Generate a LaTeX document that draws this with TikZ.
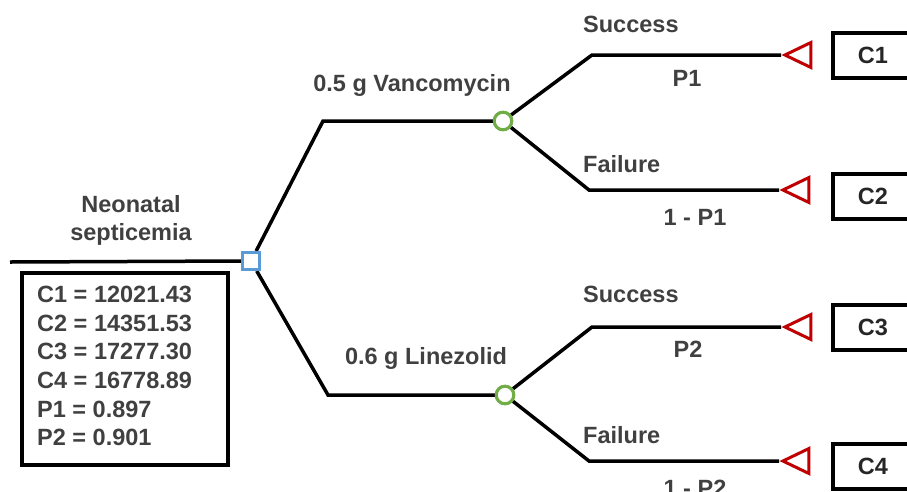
\documentclass[tikz,border=0pt]{standalone}
\usepackage{fontspec}
\setmainfont{Liberation Sans}
\usetikzlibrary{shapes.geometric}
\definecolor{txt}{HTML}{404040}
\definecolor{decblue}{HTML}{5B9BD5}
\definecolor{chgreen}{HTML}{70AD47}
\definecolor{endred}{HTML}{C00000}
\begin{document}
\begin{tikzpicture}[x=1pt,y=-1pt,
  lbl/.style={font=\fontsize{23.5}{27.5}\selectfont\bfseries, text=txt, inner sep=0pt},
  br/.style={draw=black, line width=3.5pt, line join=miter},
  decnode/.style={draw=decblue, line width=3pt, fill=white, minimum size=17pt, inner sep=0pt, rectangle},
  chnode/.style={draw=chgreen, line width=3pt, fill=white, minimum size=17.5pt, inner sep=0pt, circle},
  endnode/.style={draw=endred, line width=3pt, isosceles triangle, isosceles triangle stretches, shape border rotate=180, minimum width=25pt, minimum height=26pt, inner sep=0pt, anchor=apex},
  outbox/.style={draw=black, line width=4pt, minimum width=80pt, minimum height=45pt, inner sep=0pt, font=\fontsize{23.5}{27.5}\selectfont\bfseries, text=black!85},
  infobox/.style={draw=black, line width=4pt}]
\useasboundingbox (0,0) rectangle (907,491);
\clip (0,0) rectangle (907,491);

% nodes
\node[decnode] (d) at (251,261) {};
\node[chnode] (c1) at (503,121) {};
\node[chnode] (c2) at (505,395) {};
\node[endnode] (t1) at (781,55) {};
\node[endnode] (t2) at (779,190) {};
\node[endnode] (t3) at (781,327) {};
\node[endnode] (t4) at (779,461) {};
\node[outbox] (o1) at (873,55) {C1};
\node[outbox] (o2) at (873,196) {C2};
\node[outbox] (o3) at (873,327) {C3};
\node[outbox] (o4) at (873,466) {C4};

% bend points
\coordinate (r0) at (10,262);
\coordinate (u1) at (323,121);
\coordinate (l1) at (328,395);
\coordinate (s1) at (592,55);
\coordinate (f1) at (589,190);
\coordinate (s2) at (592,327);
\coordinate (f2) at (589,461);

% connectors
\draw[br] (r0) -- (d.west);
\draw[br] (d) -- (u1) -- (c1);
\draw[br] (d) -- (l1) -- (c2);
\draw[br] (c1) -- (s1) -- (t1.apex);
\draw[br] (c1) -- (f1) -- (t2.apex);
\draw[br] (c2) -- (s2) -- (t3.apex);
\draw[br] (c2) -- (f2) -- (t4.apex);
\node[decnode] at (d) {};
\node[chnode] at (c1) {};
\node[chnode] at (c2) {};

% info box
\node[infobox, minimum width=206pt, minimum height=192pt, anchor=north west] (ib) at (20,271) {};
\node[lbl, font=\fontsize{23.5}{28.6}\selectfont\bfseries, align=left, anchor=north west] (ibt) at (37,286) {C1 = 12021.43\\C2 = 14351.53\\C3 = 17277.30\\C4 = 16778.89\\P1 = 0.897\\P2 = 0.901};

% labels
\node[lbl, align=center, anchor=base] (root) at (131,240) {Neonatal\\septicemia};
\node[lbl, anchor=base] (a1) at (412,91) {0.5 g Vancomycin};
\node[lbl, anchor=base] (a2) at (426,364) {0.6 g Linezolid};
\node[lbl, anchor=base west] (sl1) at (583,32) {Success};
\node[lbl, anchor=base] (p1) at (687,86) {P1};
\node[lbl, anchor=base west] (fl1) at (583,172) {Failure};
\node[lbl, anchor=base] (q1) at (695,225) {1 - P1};
\node[lbl, anchor=base west] (sl2) at (583,302) {Success};
\node[lbl, anchor=base] (p2) at (688,357) {P2};
\node[lbl, anchor=base west] (fl2) at (583,443) {Failure};
\node[lbl, anchor=base] (q2) at (695,496) {1 - P2};
\end{tikzpicture}
\end{document}
